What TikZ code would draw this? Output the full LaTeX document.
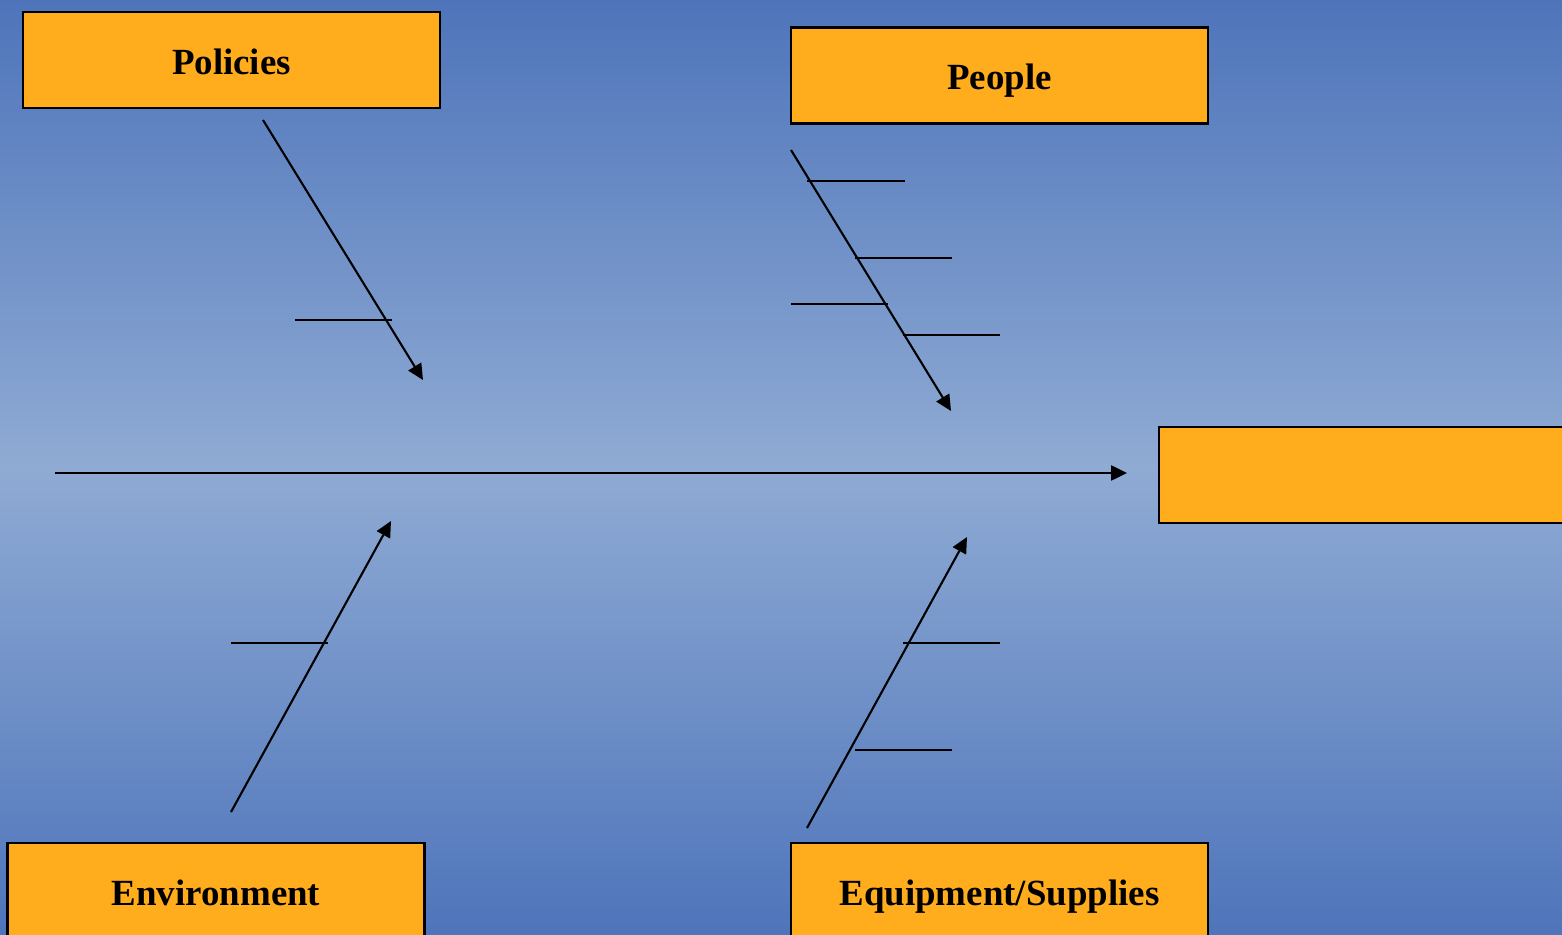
\documentclass[tikz,border=0pt]{standalone}
\usepackage{fontspec}
\setmainfont{Liberation Serif}
\usetikzlibrary{arrows.meta}
\definecolor{bgdark}{HTML}{4E74BA}
\definecolor{bglight}{HTML}{8FABD4}
\definecolor{causeorange}{HTML}{FFAD1C}
\tikzset{
  causebox/.style={draw=black, line width=1.2pt, fill=causeorange, minimum width=8.34cm,
    minimum height=1.92cm, inner sep=0pt, text height=16pt, text depth=0pt,
    font=\fontsize{21}{25}\selectfont\bfseries},
  bone/.style={line width=1.2pt, -{Triangle[length=9pt,width=8.5pt]}},
  rib/.style={line width=1.2pt}
}
\begin{document}
\begin{tikzpicture}[x=0.02cm, y=-0.02cm]

\clip (0,0) rectangle (1562,935);
\shade [top color=bgdark, bottom color=bgdark, middle color=bglight] (0,0) rectangle (1562,935);

\node [causebox] (policies) at (231.5,60) {Policies};
\node [causebox] (people) at (999.5,75.5) {People};
\node [causebox] (effect) at (1367.5,475) {};
\node [causebox] (environment) at (216,891) {Environment};
\node [causebox] (equipment) at (999.5,891) {Equipment/Supplies};

% spine
\coordinate (head) at (55,473);
\coordinate (tail) at (1127,473);
\draw [bone] (head) -- (tail);

% policies
\coordinate (pol1) at (263,120);
\coordinate (pol2) at (423,380);
\draw [bone] (pol1) -- (pol2);
\draw [rib] (295,320) -- (392,320);

% people
\coordinate (peo1) at (791,150);
\coordinate (peo2) at (951,411);
\draw [bone] (peo1) -- (peo2);
\draw [rib] (807,181) -- (905,181);
\draw [rib] (855,258) -- (952,258);
\draw [rib] (791,304) -- (888,304);
\draw [rib] (903,335) -- (1000,335);

% environment
\coordinate (env1) at (231,812);
\coordinate (env2) at (391,521);
\draw [bone] (env1) -- (env2);
\draw [rib] (231,643) -- (328,643);

% equipment
\coordinate (equ1) at (807,828);
\coordinate (equ2) at (967,537);
\draw [bone] (equ1) -- (equ2);
\draw [rib] (903,643) -- (1000,643);
\draw [rib] (855,750) -- (952,750);

\end{tikzpicture}
\end{document}
